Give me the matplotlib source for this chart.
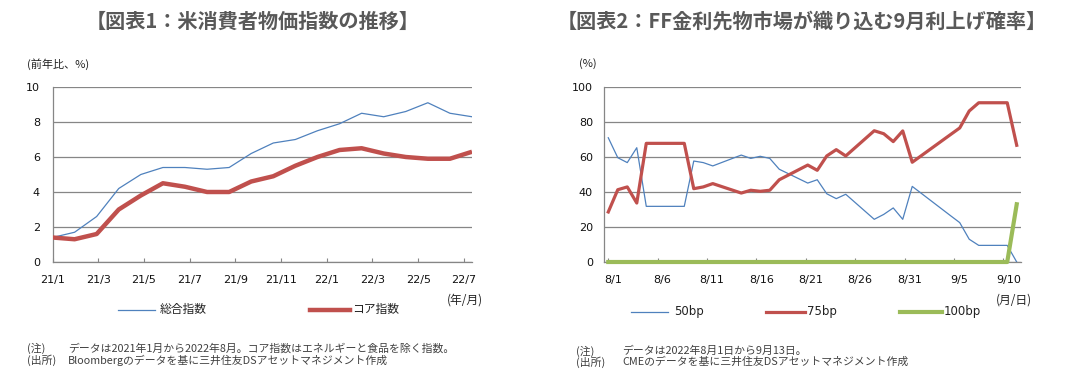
import matplotlib
matplotlib.use("Agg")
import matplotlib.pyplot as plt
import matplotlib.transforms as mtransforms
from matplotlib.lines import Line2D
import numpy as np
import pandas as pd

# ---------------- data ----------------
# Chart 1: US CPI (YoY %), monthly 2021/1 - 2022/8
cpi_months = pd.period_range("2021-01", "2022-08", freq="M")
cpi_headline = [1.4, 1.7, 2.6, 4.2, 5.0, 5.4, 5.4, 5.3, 5.4, 6.2,
                6.8, 7.0, 7.5, 7.9, 8.5, 8.3, 8.6, 9.1, 8.5, 8.3]
cpi_core = [1.4, 1.3, 1.6, 3.0, 3.8, 4.5, 4.3, 4.0, 4.0, 4.6,
            4.9, 5.5, 6.0, 6.4, 6.5, 6.2, 6.0, 5.9, 5.9, 6.3]
cpi_ticklabels = ["21/1", "21/3", "21/5", "21/7", "21/9", "21/11",
                  "22/1", "22/3", "22/5", "22/7"]

# Chart 2: FF futures implied probability of September hike (%)
ff_dates = pd.to_datetime([
    "2022-08-01", "2022-08-02", "2022-08-03", "2022-08-04", "2022-08-05",
    "2022-08-08", "2022-08-09", "2022-08-10", "2022-08-11", "2022-08-12",
    "2022-08-15", "2022-08-16", "2022-08-17", "2022-08-18", "2022-08-19",
    "2022-08-22", "2022-08-23", "2022-08-24", "2022-08-25", "2022-08-26",
    "2022-08-29", "2022-08-30", "2022-08-31", "2022-09-01", "2022-09-02",
    "2022-09-06", "2022-09-07", "2022-09-08", "2022-09-09", "2022-09-12",
    "2022-09-13"])
prob_50 = [71.0, 59.6, 56.8, 65.3, 31.8, 31.8, 31.8, 57.7, 56.8, 54.9,
           61.1, 59.2, 60.4, 59.2, 53.0, 45.1, 47.0, 39.0, 36.2, 38.7,
           24.4, 27.2, 30.9, 24.4, 43.2, 26.6, 22.5, 13.0, 9.5, 9.5, 0.0]
prob_75 = [28.6, 41.3, 42.9, 33.7, 67.8, 67.8, 67.8, 41.9, 42.9, 44.8,
           39.4, 41.0, 40.4, 41.0, 47.0, 55.4, 52.4, 60.6, 64.2, 60.6,
           75.0, 73.3, 68.8, 74.9, 57.0, 72.7, 76.6, 86.3, 91.0, 91.0, 66.7]
prob_100 = [0, 0, 0, 0, 0, 0, 0, 0, 0, 0,
            0, 0, 0, 0, 0, 0, 0, 0, 0, 0,
            0, 0, 0, 0, 0, 0, 0, 0, 0, 0, 33.0]
ff_ticklabels = ["8/1", "8/6", "8/11", "8/16", "8/21", "8/26", "8/31", "9/5", "9/10"]

# ---------------- style ----------------
JP = "Noto Sans CJK JP"
plt.rcParams["font.family"] = ["DejaVu Sans", JP]
BLUE = "#4F81BD"
RED = "#C0504D"
GREEN = "#9BBB59"
GRID = "#868686"
TITLE_C = "#595959"
NOTE_C = "#404040"

W, H = 1087, 381
fig = plt.figure(figsize=(W / 100, H / 100), dpi=100)
fig.patch.set_facecolor("white")


def fx(x):
    return x / W


def fy(y):
    return 1 - y / H


def add_ax(left, top, right, bottom):
    return fig.add_axes([fx(left), fy(bottom), (right - left) / W, (bottom - top) / H])


def style_ax(ax, ymax, ystep, ypad):
    ax.set_ylim(0, ymax)
    ax.set_yticks(np.arange(0, ymax + 0.01, ystep))
    ax.yaxis.grid(True, color=GRID, linewidth=0.9)
    ax.set_axisbelow(True)
    for s in ["top", "right"]:
        ax.spines[s].set_visible(False)
    for s in ["left", "bottom"]:
        ax.spines[s].set_color(GRID)
        ax.spines[s].set_linewidth(0.9)
    ax.tick_params(axis="y", length=0, pad=ypad, labelsize=8, colors="#111111")
    ax.tick_params(axis="x", direction="in", length=3, width=0.8, color=GRID,
                   pad=9, labelsize=8, labelcolor="#111111")


# ---------------- chart 1 ----------------
ax1 = add_ax(52.5, 87, 472, 262)
x1 = np.arange(len(cpi_months))
ax1.plot(x1, cpi_headline, color=BLUE, lw=0.9, zorder=3)
ax1.plot(x1, cpi_core, color=RED, lw=3.2, zorder=4, solid_capstyle="butt")
ax1.set_xlim(0, len(cpi_months) - 1)
style_ax(ax1, 10, 2, 9)
# the reference's tick spacing is slightly wider than its data spacing
ax1.set_xticks(np.arange(len(cpi_ticklabels)) * 2 * 1.035)
ax1.set_xticklabels(cpi_ticklabels)

# ---------------- chart 2 ----------------
ax2 = add_ax(604, 87, 1021, 262)
x2 = (ff_dates - ff_dates[0]).days.values
ax2.plot(x2, prob_50, color=BLUE, lw=0.9, zorder=3)
ax2.plot(x2, prob_75, color=RED, lw=2.3, zorder=4)
ax2.plot(x2, prob_100, color=GREEN, lw=3.0, zorder=5, clip_on=False)
ax2.set_xlim(-0.45, x2[-1] + 0.45)
style_ax(ax2, 100, 20, 8)
ax2.set_xticks(np.arange(len(ff_ticklabels)) * 5 * 1.04)
ax2.set_xticklabels(ff_ticklabels)
off = mtransforms.ScaledTranslation(5 / 100, 0, fig.dpi_scale_trans)
for lab in ax2.get_xticklabels():
    lab.set_transform(lab.get_transform() + off)

# ---------------- texts ----------------
fig.text(fx(253), fy(21), "【図表1：米消費者物価指数の推移】", family=[JP], fontsize=14.5,
         fontweight="bold", color=TITLE_C, ha="center", va="center")
fig.text(fx(802), fy(21), "【図表2：FF金利先物市場が織り込む9月利上げ確率】", family=[JP],
         fontsize=14.5, fontweight="bold", color=TITLE_C, ha="center", va="center")

fig.text(fx(27), fy(64), "(前年比、%)", family=[JP], fontsize=8, color="#222222",
         ha="left", va="center")
fig.text(fx(579), fy(64), "(%)", family=[JP], fontsize=8, color="#222222",
         ha="left", va="center")

fig.text(fx(465), fy(300), "(年/月)", family=[JP], fontsize=8.5, color="#222222",
         ha="center", va="center")
fig.text(fx(1014), fy(300), "(月/日)", family=[JP], fontsize=8.5, color="#222222",
         ha="center", va="center")


def legend_item(x0, x1, y, color, lw, label, tx):
    fig.add_artist(Line2D([fx(x0), fx(x1)], [fy(y), fy(y)], color=color, lw=lw,
                          transform=fig.transFigure))
    fig.text(fx(tx), fy(y), label, fontsize=8.5, color="#222222", ha="left", va="center",
             family=[JP] if not label[0].isdigit() else ["DejaVu Sans"])


legend_item(118, 155, 310, BLUE, 0.9, "総合指数", 160)
legend_item(310, 350, 310, RED, 3.2, "コア指数", 352)
legend_item(631, 668, 312, BLUE, 0.9, "50bp", 674)
legend_item(766, 805, 312, RED, 2.3, "75bp", 807)
legend_item(900, 942, 312, GREEN, 3.0, "100bp", 944)

note_kw = dict(family=[JP], fontsize=7.8, color=NOTE_C, ha="left", va="center")
fig.text(fx(27), fy(348), "(注)", **note_kw)
fig.text(fx(68), fy(348), "データは2021年1月から2022年8月。コア指数はエネルギーと食品を除く指数。", **note_kw)
fig.text(fx(27), fy(360), "(出所)", **note_kw)
fig.text(fx(68), fy(360), "Bloombergのデータを基に三井住友DSアセットマネジメント作成", **note_kw)

fig.text(fx(576), fy(351), "(注)", **note_kw)
fig.text(fx(622), fy(351), "データは2022年8月1日から9月13日。", **note_kw)
fig.text(fx(576), fy(362), "(出所)", **note_kw)
fig.text(fx(622), fy(362), "CMEのデータを基に三井住友DSアセットマネジメント作成", **note_kw)

fig.savefig("out.png", dpi=100, facecolor="white")
